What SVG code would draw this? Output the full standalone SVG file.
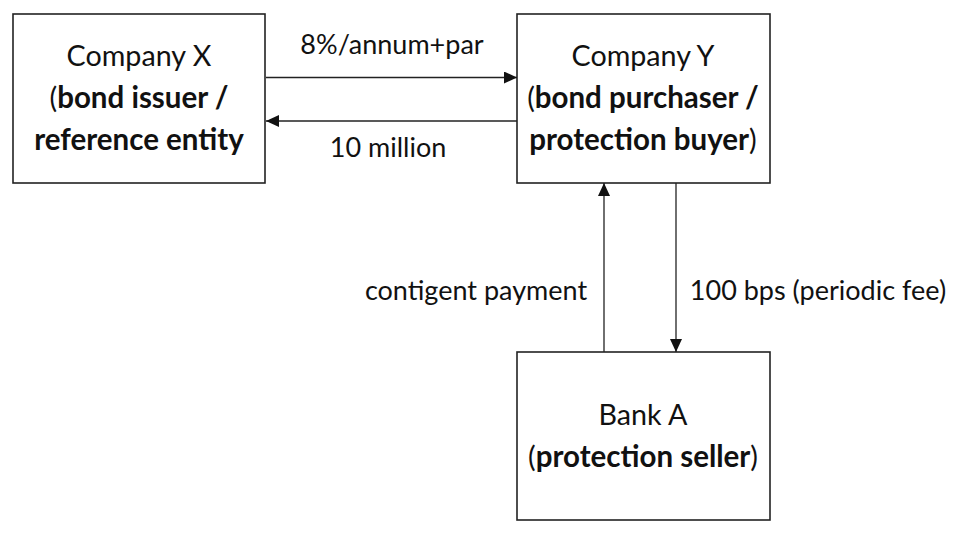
<svg xmlns="http://www.w3.org/2000/svg" width="953" height="538" viewBox="0 0 953 538">
<defs>
<marker id="arr" viewBox="0 0 13 12" refX="13" refY="6" markerWidth="13" markerHeight="12" markerUnits="userSpaceOnUse" orient="auto">
<path d="M0,0 L13,6 L0,12 Z" fill="#111"/>
</marker>
</defs>
<style>
.box{fill:#fff;stroke:#222;stroke-width:1.6}
.t{font-family:Lato,"Liberation Sans",sans-serif;font-size:27px;fill:#111;text-anchor:middle}
.n{font-size:28.7px}
.b{font-weight:bold;font-size:29.5px}
.e{stroke:#222;stroke-width:1.3;fill:none;marker-end:url(#arr)}
</style>
<rect width="953" height="538" fill="#fff"/>
<g id="companyX">
<rect class="box" x="13" y="14" width="252" height="169"/>
<text class="t n" x="139" y="66">Company X</text>
<text class="t n" x="139" y="108">(<tspan class="b">bond issuer /</tspan></text>
<text class="t b" x="139" y="150">reference entity</text>
</g>
<g id="companyY">
<rect class="box" x="517" y="14" width="253" height="169"/>
<text class="t n" x="643" y="66">Company Y</text>
<text class="t n" x="643" y="108">(<tspan class="b">bond purchaser /</tspan></text>
<text class="t n" x="643" y="150"><tspan class="b">protection buyer</tspan>)</text>
</g>
<g id="bankA">
<rect class="box" x="517" y="352" width="253" height="168"/>
<text class="t n" x="643" y="425">Bank A</text>
<text class="t n" x="643" y="467">(<tspan class="b">protection seller</tspan>)</text>
</g>
<g id="connectors">
<line class="e" x1="266" y1="77.5" x2="517" y2="77.5"/>
<line class="e" x1="517" y1="121" x2="266" y2="121"/>
<line class="e" x1="604" y1="352" x2="604" y2="183"/>
<line class="e" x1="676" y1="183" x2="676" y2="352"/>
<text class="t" x="392" y="54">8%/annum+par</text>
<text class="t" x="388" y="157">10 million</text>
<text class="t" x="476" y="300">contigent payment</text>
<text class="t" x="818" y="300">100 bps (periodic fee)</text>
</g>
</svg>
